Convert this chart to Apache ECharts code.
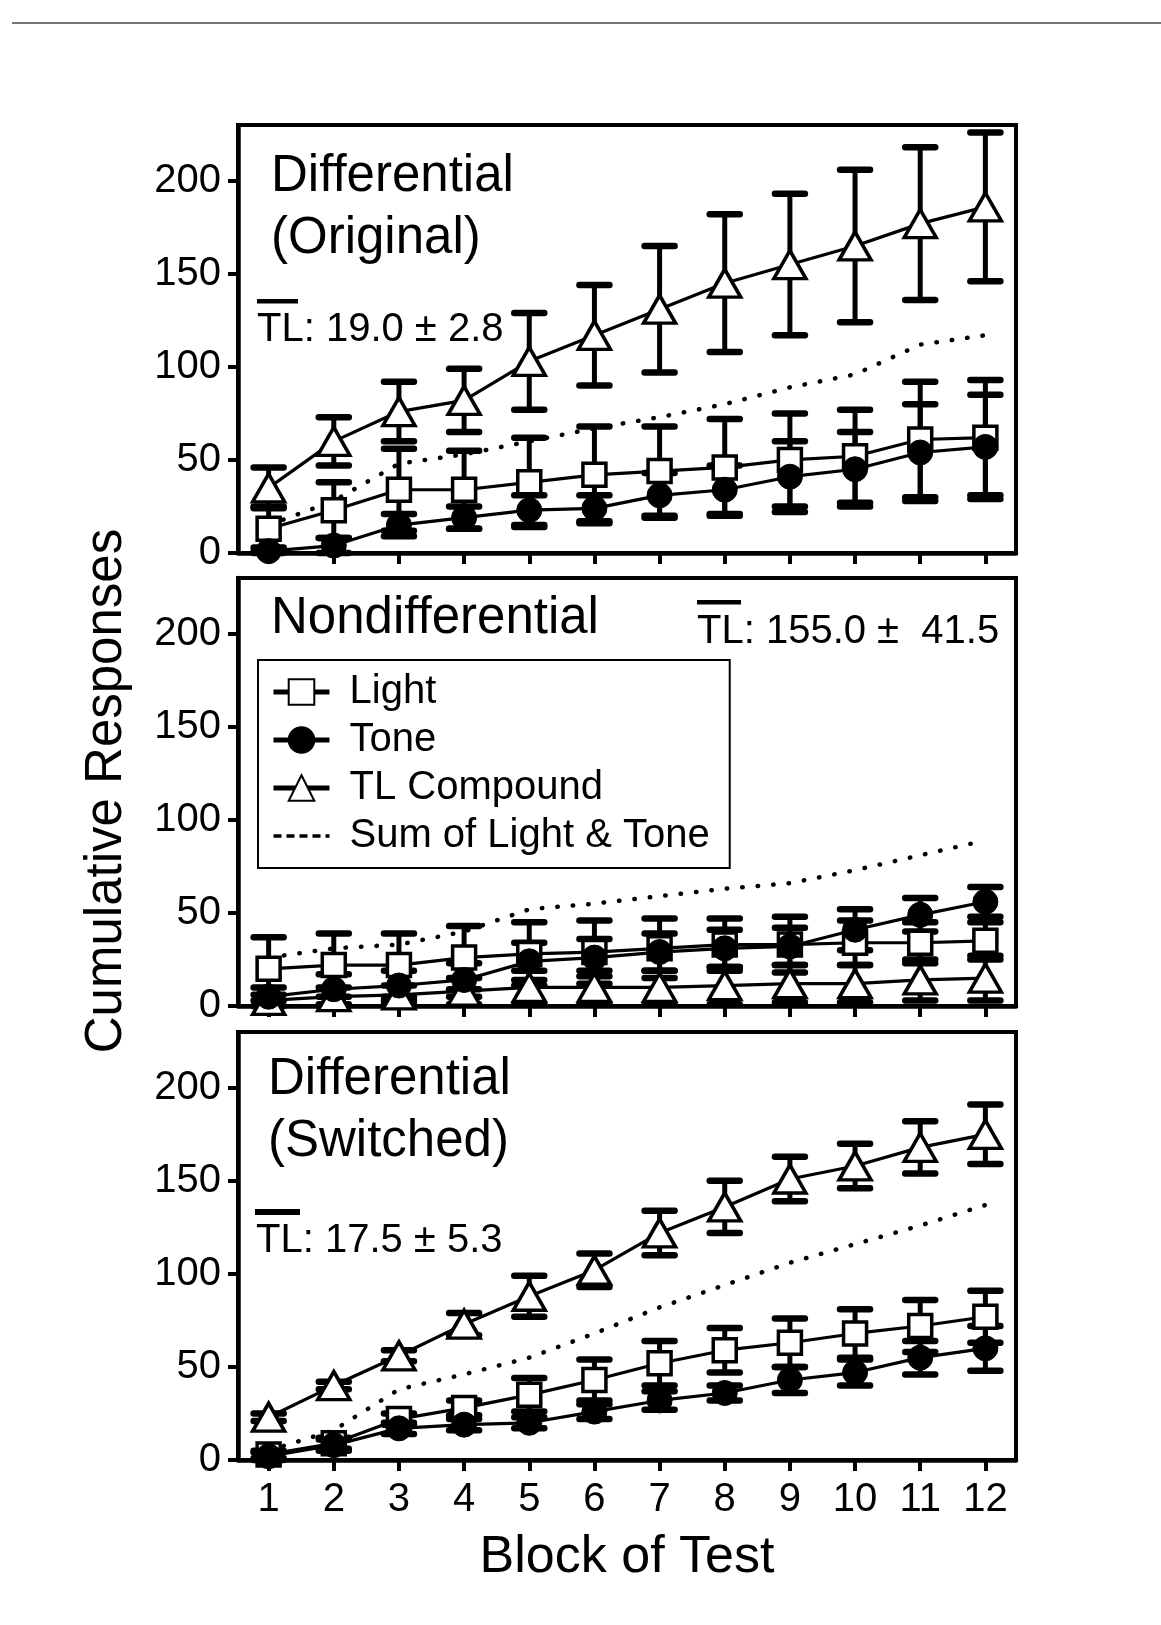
<!DOCTYPE html>
<html>
<head>
<meta charset="utf-8">
<title>Cumulative Responses by Block of Test</title>
<script src="https://cdn.jsdelivr.net/npm/echarts@6/dist/echarts.min.js"></script>
<style>
  html, body { margin: 0; padding: 0; background: #fff; }
  #chart { width: 1161px; height: 1625px; }
</style>
</head>
<body>
<div id="chart"></div>
<script>
// ---- data -------------------------------------------------------------
const blocks = [1, 2, 3, 4, 5, 6, 7, 8, 9, 10, 11, 12];
const yTicks = [0, 50, 100, 150, 200];

// Differential (Original)
const origTL        = [35, 60, 76, 82, 103, 117, 131, 145, 155, 165, 177, 186];
const origTLSem     = [11, 13, 16, 17, 26, 27, 34, 37, 38, 41, 41, 40];
const origLight     = [13, 23, 34, 34, 38, 42, 44, 46, 50, 52, 61, 62];
const origLightSem  = [12, 15, 22, 21, 24, 26, 24, 26, 25, 25, 31, 31];
const origTone      = [1, 4, 15, 19, 23, 24, 31, 34, 41, 45, 54, 57];
const origToneSem   = [2, 4, 6, 6, 8, 7, 12, 13, 19, 20, 26, 28];
const origSum       = [15, 28, 48, 53, 60, 67, 73, 80, 89, 96, 112, 117];

// Nondifferential
const nondTL        = [3, 5, 6, 8, 10, 10, 10, 11, 12, 12, 14, 15];
const nondTLSem     = [3, 5, 5, 7, 9, 9, 9, 10, 10, 10, 11, 12];
const nondLight     = [20, 22, 22, 26, 28, 29, 31, 33, 33, 34, 34, 35];
const nondLightSem  = [17, 17, 17, 17, 17, 17, 16, 14, 15, 12, 11, 10];
const nondTone      = [5, 9, 11, 14, 24, 26, 29, 31, 32, 41, 49, 56];
const nondToneSem   = [5, 8, 8, 9, 10, 10, 10, 10, 10, 11, 9, 8];
const nondSum       = [26, 31, 33, 40, 52, 55, 59, 63, 66, 73, 81, 89];

// Differential (Switched)
const swTL          = [23, 40, 56, 73, 88, 102, 122, 136, 151, 158, 168, 175];
const swTLSem       = [2, 2, 3, 6, 11, 9, 12, 14, 12, 12, 14, 16];
const swLight       = [3, 9, 22, 28, 35, 43, 52, 59, 63, 68, 72, 77];
const swLightSem    = [2, 3, 3, 4, 9, 11, 12, 12, 13, 13, 14, 14];
const swTone        = [2, 8, 17, 19, 20, 26, 32, 36, 43, 47, 55, 60];
const swToneSem     = [2, 3, 3, 3, 3, 4, 5, 4, 7, 7, 9, 12];
const swSum         = [5, 16, 38, 46, 55, 68, 82, 94, 106, 116, 126, 137];

const panelTitles = [['Differential', '(Original)'], ['Nondifferential'], ['Differential', '(Switched)']];
const tlLabels = ['TL: 19.0 \u00b1 2.8', 'TL: 155.0 \u00b1  41.5', 'TL: 17.5 \u00b1 5.3'];

const panels = [
  { tl: origTL, tlSem: origTLSem, light: origLight, lightSem: origLightSem, tone: origTone, toneSem: origToneSem, sum: origSum },
  { tl: nondTL, tlSem: nondTLSem, light: nondLight, lightSem: nondLightSem, tone: nondTone, toneSem: nondToneSem, sum: nondSum },
  { tl: swTL, tlSem: swTLSem, light: swLight, lightSem: swLightSem, tone: swTone, toneSem: swToneSem, sum: swSum }
];

// ---- layout & style ---------------------------------------------------
const FONT = '"Liberation Sans", Arial, Helvetica, sans-serif';
const gridLeft = 238, gridWidth = 778, gridHeight = 428;
const gridTops = [125, 578, 1032];
const Y_MAX = 230;

function pairs(values) { return blocks.map((b, i) => [b, values[i]]); }
function bars(mean, sem) { return blocks.map((b, i) => [b, mean[i] - sem[i], mean[i] + sem[i]]); }

// vertical SEM bar with flat caps, placed through the axis scales
function renderErrorBar(params, api) {
  const x = api.value(0);
  const lo = Math.max(0, api.value(1));
  const hi = api.value(2);
  const top = api.coord([x, hi]);
  const bot = api.coord([x, lo]);
  const half = 15;
  const stem = { stroke: '#000', lineWidth: 5 };
  const cap = { stroke: '#000', lineWidth: 6.5, lineCap: 'round' };
  return {
    type: 'group',
    children: [
      { type: 'line', shape: { x1: top[0], y1: top[1], x2: bot[0], y2: bot[1] }, style: stem },
      { type: 'line', shape: { x1: top[0] - half, y1: top[1], x2: top[0] + half, y2: top[1] }, style: cap },
      { type: 'line', shape: { x1: bot[0] - half, y1: bot[1], x2: bot[0] + half, y2: bot[1] }, style: cap }
    ]
  };
}

const grids = [], xAxes = [], yAxes = [], series = [];

panels.forEach((p, i) => {
  grids.push({
    left: gridLeft, top: gridTops[i], width: gridWidth, height: gridHeight,
    show: true, borderColor: '#000', borderWidth: 4,
    containLabel: false, outerBoundsMode: 'none'
  });
  xAxes.push({
    gridIndex: i, type: 'value', min: 0.53, max: 12.47,
    axisLine: { show: true, onZero: false, lineStyle: { color: '#000', width: 4.5 } },
    axisTick: { show: true, customValues: blocks, length: 11, lineStyle: { color: '#000', width: 4 } },
    axisLabel: { show: i === 2, customValues: blocks, fontSize: 40, color: '#000', fontFamily: FONT, margin: 20 },
    splitLine: { show: false },
    name: i === 2 ? 'Block of Test' : '',
    nameLocation: 'middle', nameGap: 72,
    nameTextStyle: { fontSize: 52, color: '#000', fontFamily: FONT }
  });
  yAxes.push({
    gridIndex: i, type: 'value', min: 0, max: Y_MAX, interval: 50,
    axisLine: { show: true, lineStyle: { color: '#000', width: 4.5 } },
    axisTick: { show: true, customValues: yTicks, length: 10, lineStyle: { color: '#000', width: 4 } },
    axisLabel: { customValues: yTicks, fontSize: 40, color: '#000', fontFamily: FONT, margin: 17 },
    splitLine: { show: false }
  });

  // error bars under the markers
  [['TL Compound SEM', p.tl, p.tlSem], ['Light SEM', p.light, p.lightSem], ['Tone SEM', p.tone, p.toneSem]].forEach(([name, m, s]) => {
    series.push({
      name: name, type: 'custom', xAxisIndex: i, yAxisIndex: i, z: 2,
      renderItem: renderErrorBar, encode: { x: 0, y: [1, 2] },
      data: bars(m, s), silent: true
    });
  });

  series.push({
    name: 'Sum of Light & Tone', type: 'line', xAxisIndex: i, yAxisIndex: i, z: 2,
    data: pairs(p.sum), symbol: 'none', silent: true,
    itemStyle: { color: '#000' },
    lineStyle: { color: '#000', width: 4.5, type: [0.5, 15], cap: 'round' }
  });
  series.push({
    name: 'TL Compound', type: 'line', xAxisIndex: i, yAxisIndex: i, z: 3,
    data: pairs(p.tl), symbol: 'triangle', symbolSize: [32, 28], silent: true,
    itemStyle: { color: '#fff', borderColor: '#000', borderWidth: 3.5 },
    lineStyle: { color: '#000', width: 3.2 }
  });
  series.push({
    name: 'Light', type: 'line', xAxisIndex: i, yAxisIndex: i, z: 3,
    data: pairs(p.light), symbol: 'rect', symbolSize: 23, silent: true,
    itemStyle: { color: '#fff', borderColor: '#000', borderWidth: 3.5 },
    lineStyle: { color: '#000', width: 3.2 }
  });
  series.push({
    name: 'Tone', type: 'line', xAxisIndex: i, yAxisIndex: i, z: 3,
    data: pairs(p.tone), symbol: 'circle', symbolSize: 25, silent: true,
    itemStyle: { color: '#000', borderColor: '#000', borderWidth: 1 },
    lineStyle: { color: '#000', width: 3.2 }
  });
});

// ---- text and decoration ---------------------------------------------
function label(text, x, y, size) {
  return {
    type: 'text', x: x, y: y, silent: true,
    style: { text: text, font: size + 'px ' + FONT, fill: '#000', align: 'left', verticalAlign: 'middle' }
  };
}
function overline(x, y, w, h) {
  return { type: 'rect', silent: true, shape: { x: x, y: y, width: w, height: h }, style: { fill: '#000' } };
}

const yTitle = label('Cumulative Responses', 107, 791, 51);
yTitle.rotation = Math.PI / 2;
yTitle.style.align = 'center';

const graphics = [
  { type: 'line', silent: true, shape: { x1: 12, y1: 23, x2: 1161, y2: 23 }, style: { stroke: '#777', lineWidth: 2 } },
  yTitle,
  label(panelTitles[0][0], 271, 177, 51),
  label(panelTitles[0][1], 271, 239, 51),
  label(tlLabels[0], 257, 330, 40),
  overline(257, 299, 41, 4.5),
  label(panelTitles[1][0], 271, 619, 51),
  label(tlLabels[1], 697, 632, 40),
  overline(697, 600, 44, 4.5),
  label(panelTitles[2][0], 268, 1080, 51),
  label(panelTitles[2][1], 268, 1142, 51),
  label(tlLabels[2], 256, 1241, 40),
  overline(255, 1209, 45, 6)
];

const chart = echarts.init(document.getElementById('chart'), null, { renderer: 'canvas' });
chart.setOption({
  backgroundColor: '#fff',
  animation: false,
  textStyle: { fontFamily: FONT, color: '#000' },
  grid: grids,
  xAxis: xAxes,
  yAxis: yAxes,
  legend: {
    orient: 'vertical', left: 258, top: 660,
    selectedMode: false,
    itemWidth: 56, itemHeight: 32, itemGap: 8,
    padding: [12, 20, 12, 13],
    borderColor: '#000', borderWidth: 2, borderRadius: 0,
    backgroundColor: '#fff',
    textStyle: { fontSize: 40, color: '#000', fontFamily: FONT, padding: [0, 0, 0, 15] },
    lineStyle: { width: 5 },
    data: [
      { name: 'Light' },
      { name: 'Tone' },
      { name: 'TL Compound' },
      { name: 'Sum of Light & Tone', itemStyle: { opacity: 0 }, lineStyle: { type: [8, 5], cap: 'butt', width: 3.5 } }
    ]
  },
  graphic: graphics,
  series: series
});
</script>
</body>
</html>
